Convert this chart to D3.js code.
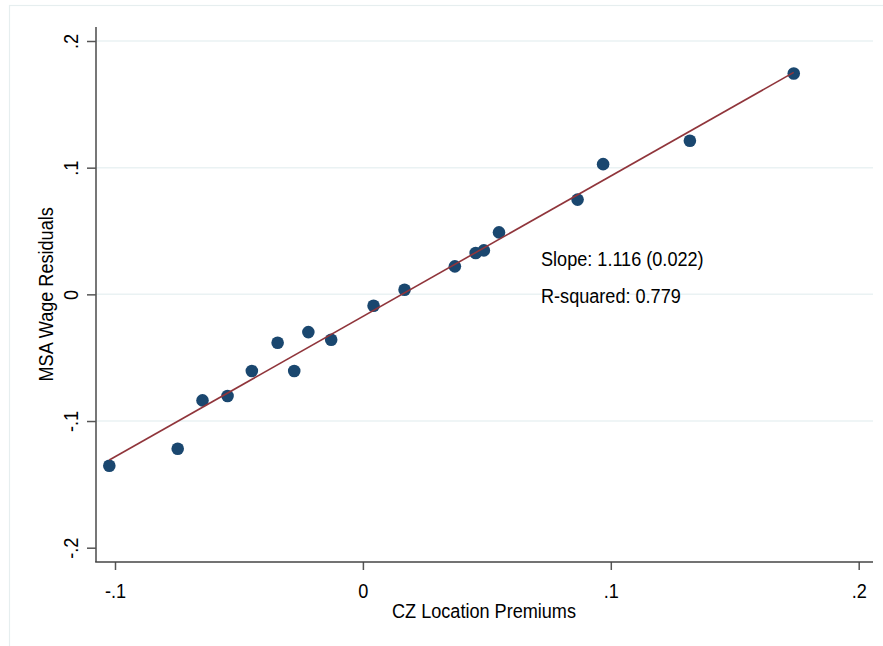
<!DOCTYPE html>
<html>
<head>
<meta charset="utf-8">
<script src="https://cdn.jsdelivr.net/npm/d3@7"></script>
<style>
  html, body { margin: 0; padding: 0; background: #ffffff; }
  svg { display: block; font-family: "Liberation Sans", Arial, sans-serif; }
</style>
</head>
<body>
<svg id="chart" width="883" height="646"></svg>
<script>
// ---- data ----
const czPremium = [-0.1023, -0.0747, -0.0647, -0.0546, -0.0448, -0.0344, -0.0277, -0.0220, -0.0128,
                   0.0043, 0.0168, 0.0371, 0.0455, 0.0488, 0.0549, 0.0866, 0.0969, 0.1319, 0.1738];
const msaResidual = [-0.1353, -0.1219, -0.0837, -0.0803, -0.0605, -0.0382, -0.0605, -0.0298, -0.0358,
                     -0.0090, 0.0036, 0.0221, 0.0326, 0.0347, 0.0489, 0.0748, 0.1028, 0.1212, 0.1744];
const fitX = [-0.1023, 0.1738];
const fitY = [-0.1308, 0.1752];
const xTicks = [-0.1, 0, 0.1, 0.2];
const xTickLabels = ["-.1", "0", ".1", ".2"];
const yTicks = [-0.2, -0.1, 0, 0.1, 0.2];
const yTickLabels = ["-.2", "-.1", "0", ".1", ".2"];
const gridTicks = [-0.1, 0, 0.1, 0.2];
const xTitle = "CZ Location Premiums";
const yTitle = "MSA Wage Residuals";
const annotations = ["Slope: 1.116 (0.022)", "R-squared: 0.779"];

// ---- layout ----
const svg = d3.select("#chart");
const plot = { left: 96, right: 873, top: 27, bottom: 562 };
const FS = "20px";       // font size
const SX = 0.905;        // horizontal condensing of the Stata font

const x = d3.scaleLinear().domain([-0.1, 0.2]).range([115, 858.7]);
const y = d3.scaleLinear().domain([-0.2, 0.2]).range([547.7, 41]);

// outer graph frame (light)
svg.append("rect")
  .attr("x", 9.5).attr("y", 5.5).attr("width", 1000).attr("height", 1000)
  .attr("fill", "none").attr("stroke", "#e6eeef").attr("stroke-width", 1.2);

// gridlines
svg.append("g").selectAll("line").data(gridTicks).join("line")
  .attr("x1", plot.left).attr("x2", plot.right)
  .attr("y1", d => y(d)).attr("y2", d => y(d))
  .attr("stroke", "#eaf2f3").attr("stroke-width", 1.5);

// y axis
const yAxis = d3.axisLeft(y).tickValues(yTicks)
  .tickFormat((d, i) => yTickLabels[i]).tickSize(9).tickSizeOuter(0);
const gy = svg.append("g").attr("transform", `translate(${plot.left},0)`).call(yAxis);
gy.select(".domain").remove();
gy.selectAll(".tick line").attr("stroke", "#555").attr("stroke-width", 1.5);
gy.selectAll(".tick text")
  .attr("transform", `rotate(-90) translate(0,-18) scale(${SX},1)`)
  .attr("x", 0).attr("y", 0).attr("dy", 0)
  .style("text-anchor", "middle")
  .style("font-size", FS).style("font-family", "Liberation Sans, Arial, sans-serif")
  .attr("fill", "#000");
svg.append("line")
  .attr("x1", plot.left).attr("x2", plot.left)
  .attr("y1", plot.top).attr("y2", plot.bottom)
  .attr("stroke", "#555").attr("stroke-width", 1.6);

// x axis
const xAxis = d3.axisBottom(x).tickValues(xTicks)
  .tickFormat((d, i) => xTickLabels[i]).tickSize(8).tickSizeOuter(0);
const gx = svg.append("g").attr("transform", `translate(0,${plot.bottom})`).call(xAxis);
gx.select(".domain").remove();
gx.selectAll(".tick line").attr("stroke", "#555").attr("stroke-width", 1.5);
gx.selectAll(".tick text")
  .attr("transform", `translate(0,35.5) scale(${SX},1)`)
  .attr("y", 0).attr("dy", 0)
  .style("font-size", FS).style("font-family", "Liberation Sans, Arial, sans-serif")
  .attr("fill", "#000");
svg.append("line")
  .attr("x1", plot.left - 0.8).attr("x2", plot.right)
  .attr("y1", plot.bottom).attr("y2", plot.bottom)
  .attr("stroke", "#444").attr("stroke-width", 1.6);

// fitted line + points
const lineGen = d3.line().x(d => x(d[0])).y(d => y(d[1]));
svg.append("g").selectAll("circle")
  .data(czPremium.map((v, i) => [v, msaResidual[i]]))
  .join("circle")
  .attr("cx", d => x(d[0])).attr("cy", d => y(d[1]))
  .attr("r", 6.3).attr("fill", "#1a476f");
svg.append("path")
  .datum(fitX.map((v, i) => [v, fitY[i]]))
  .attr("d", lineGen)
  .attr("fill", "none").attr("stroke", "#90353b").attr("stroke-width", 1.6);

// annotations
svg.append("g").selectAll("text").data(annotations).join("text")
  .attr("transform", (d, i) => `translate(541,${266 + i * 36.5}) scale(${SX},1)`)
  .style("font-size", FS).attr("fill", "#000")
  .text(d => d);

// axis titles
svg.append("text")
  .attr("transform", `translate(${(plot.left + plot.right) / 2 - 0.5},618) scale(${SX},1)`)
  .attr("text-anchor", "middle").style("font-size", FS).attr("fill", "#000")
  .text(xTitle);
svg.append("text")
  .attr("transform", `translate(53,${y(0)}) rotate(-90) scale(${SX},1)`)
  .attr("text-anchor", "middle").style("font-size", FS).attr("fill", "#000")
  .text(yTitle);
</script>
</body>
</html>
